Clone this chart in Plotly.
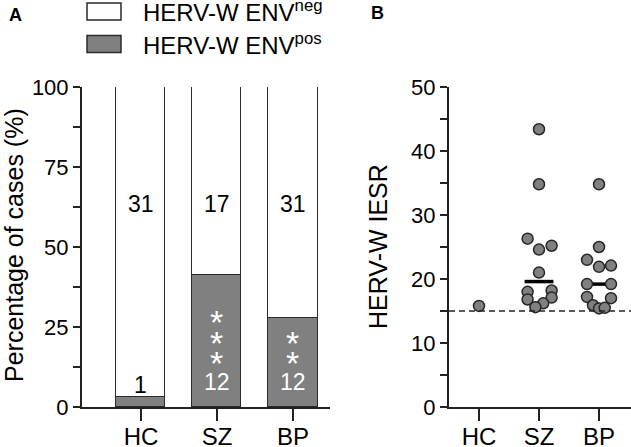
import numpy as np
import plotly.graph_objects as go

FONT = "Liberation Sans, Arial, sans-serif"
W, H = 631, 447

groups = ["HC", "SZ", "BP"]
env_neg = [31, 17, 31]
env_pos = [1, 12, 12]
stars = ["", "***", "**"]

iesr_hc = [15.8]
iesr_sz = [43.4, 34.8, 26.3, 24.6, 25.2, 21.0, 18.0, 18.2, 16.8, 17.1, 16.2, 15.6]
iesr_bp = [34.8, 25.0, 23.0, 21.9, 22.1, 19.2, 19.2, 17.2, 17.0, 15.9, 15.4, 15.5]
# horizontal spread of the dots inside each column (group units)
jit_hc = [0]
jit_sz = [0, 0, -0.19, 0, 0.21, 0, -0.19, 0.21, -0.19, 0.21, 0.07, -0.06]
jit_bp = [0, 0, -0.2, 0, 0.2, -0.2, 0.2, -0.2, 0.2, -0.1, 0, 0.095]
cutoff = 15


def px(x):
    return x / W


def py(y):
    return 1 - y / H


pos_pct = [100 * p / (p + n) for p, n in zip(env_pos, env_neg)]
neg_pct = [100 - p for p in pos_pct]
xs = list(range(len(groups)))

fig = go.Figure()

# panel A: stacked bars
fig.add_trace(go.Bar(x=xs, y=pos_pct, width=0.645, marker=dict(color="#808080", line=dict(color="#2a2a2a", width=1.5)),
                     xaxis="x", yaxis="y", showlegend=False))
fig.add_trace(go.Bar(x=xs, y=neg_pct, width=0.645, marker=dict(color="white", line=dict(color="#2a2a2a", width=1.5)),
                     xaxis="x", yaxis="y", showlegend=False))

ann = []
for i in xs:
    ann.append(dict(x=i, y=63.5, xref="x", yref="y", text=str(env_neg[i]), showarrow=False,
                    font=dict(size=23, color="black", family=FONT)))
    if env_pos[i] < 3:
        ann.append(dict(x=i, y=pos_pct[i] + 3.6, xref="x", yref="y", text=str(env_pos[i]), showarrow=False,
                        font=dict(size=23, color="black", family=FONT)))
    else:
        ann.append(dict(x=i, y=7.8, xref="x", yref="y", text=str(env_pos[i]), showarrow=False,
                        font=dict(size=23, color="white", family=FONT)))
    for k in range(len(stars[i])):
        ann.append(dict(x=i, y=16.25 + k * 6.4, xref="x", yref="y", text="*", showarrow=False, yshift=-8,
                        font=dict(size=34, color="white", family=FONT)))

# panel B: dot plot with medians
for i, (vals, jit) in enumerate([(iesr_hc, jit_hc), (iesr_sz, jit_sz), (iesr_bp, jit_bp)]):
    if len(vals) > 1:
        med = float(np.median(vals))
        fig.add_trace(go.Scatter(x=[i - 0.24, i + 0.24], y=[med, med], mode="lines",
                                 line=dict(color="black", width=3.5), xaxis="x2", yaxis="y2", showlegend=False))
    fig.add_trace(go.Scatter(x=[i + j for j in jit], y=vals, mode="markers",
                             marker=dict(size=11, color="#808080", line=dict(color="#262626", width=1.5)),
                             xaxis="x2", yaxis="y2", showlegend=False))

fig.add_trace(go.Scatter(x=[-0.5, 2.6], y=[cutoff, cutoff], mode="lines", xaxis="x2", yaxis="y2",
                         line=dict(color="#222", width=1.5, dash="6px,4px"), showlegend=False, cliponaxis=False))

axis_common = dict(showline=True, linecolor="#222", linewidth=2, ticks="outside", tickwidth=2, automargin=False,
                   tickcolor="#222", showgrid=False, zeroline=False, fixedrange=True)

fig.update_layout(
    width=W, height=H, margin=dict(l=0, r=0, t=0, b=0, autoexpand=False),
    plot_bgcolor="white", paper_bgcolor="white", barmode="stack", bargap=0,
    font=dict(family=FONT, color="black"),
    xaxis=dict(axis_common, domain=[px(82), px(330)], range=[-0.776, 2.487], tickvals=xs, ticktext=groups,
               ticklen=12, ticklabelstandoff=-5, tickfont=dict(size=24), anchor="y"),
    yaxis=dict(axis_common, domain=[py(407), py(87)], range=[0, 100], tickvals=[0, 25, 50, 75, 100],
               ticklen=7, tickfont=dict(size=22), anchor="x",
               minor=dict(dtick=12.5, ticklen=7, tickwidth=2, tickcolor="#222", ticks="outside")),
    xaxis2=dict(axis_common, domain=[px(449), 1.0], range=[-0.5, 2.533], tickvals=xs, ticktext=groups,
                ticklen=12, ticklabelstandoff=-5, tickfont=dict(size=24), anchor="y2"),
    yaxis2=dict(axis_common, domain=[py(407), py(87)], range=[0, 50], tickvals=[0, 10, 20, 30, 40, 50],
                ticklen=7, tickfont=dict(size=22), anchor="x2",
                minor=dict(dtick=5, ticklen=7, tickwidth=2, tickcolor="#222", ticks="outside")),
)

# legend drawn by hand (wide swatches)
for yc, fill, label in [(11.5, "white", "HERV-W ENV<sup>neg</sup>"), (44, "#808080", "HERV-W ENV<sup>pos</sup>")]:
    fig.add_shape(type="rect", xref="paper", yref="paper", x0=px(87), x1=px(121), y0=py(yc - 8.5), y1=py(yc + 8.5),
                  fillcolor=fill, line=dict(color="#2a2a2a", width=1.5))
    ann.append(dict(x=px(141), y=py(yc), xref="paper", yref="paper", xanchor="left", yanchor="middle",
                    text=label, showarrow=False, font=dict(size=24)))

mid = dict(xref="paper", yref="paper", xanchor="center", yanchor="middle", showarrow=False)
ann += [
    dict(mid, x=px(15), y=py(15), text="<b>A</b>", font=dict(size=18)),
    dict(mid, x=px(377), y=py(13), text="<b>B</b>", font=dict(size=18)),
    dict(mid, x=px(14), y=py(245), text="Percentage of cases (%)", textangle=-90, font=dict(size=25)),
    dict(mid, x=px(378), y=py(247), text="HERV-W IESR", textangle=-90, font=dict(size=25)),
]
fig.update_layout(annotations=ann)

# drop the page's default body margin so the figure sits at the window corner
fig.write_html("out.html", config={"displayModeBar": False},
               post_script="document.body.style.margin='0';document.body.style.overflow='hidden';")
